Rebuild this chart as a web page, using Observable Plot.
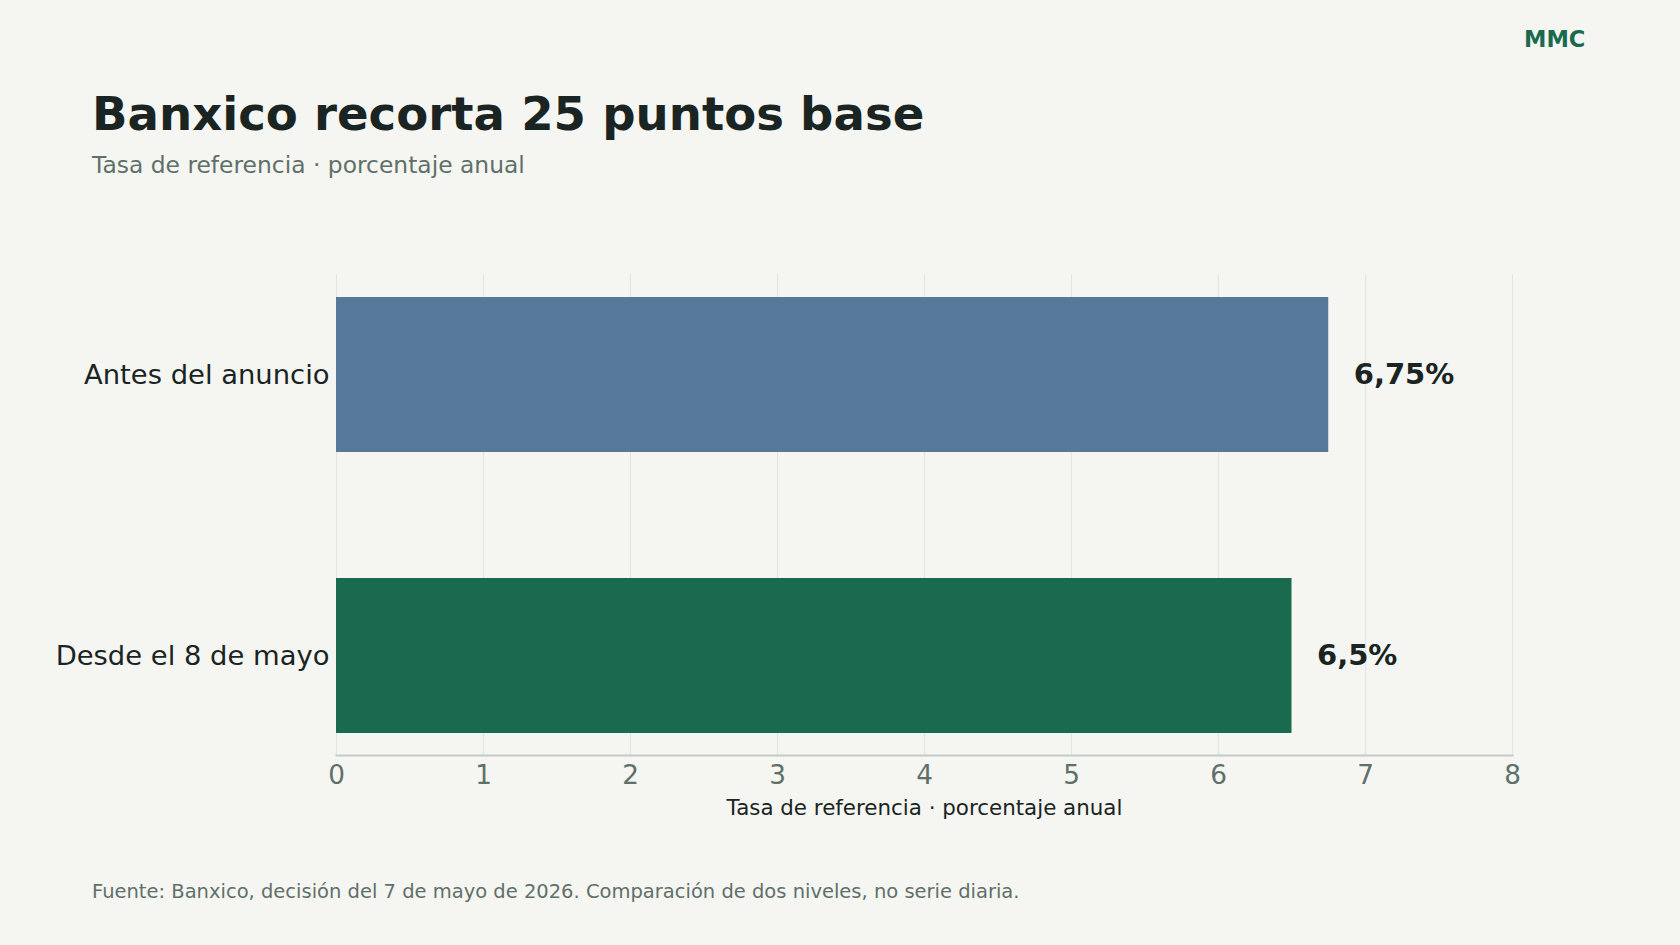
<!DOCTYPE html>
<html>
<head>
<meta charset="utf-8">
<script src="https://cdn.jsdelivr.net/npm/d3@7"></script>
<script src="https://cdn.jsdelivr.net/npm/@observablehq/plot@0.6"></script>
<style>
  html, body { margin: 0; padding: 0; background: #f5f6f2; }
  body { width: 1680px; height: 945px; position: relative; overflow: hidden; font-family: "DejaVu Sans", sans-serif; }
  .abs { position: absolute; white-space: nowrap; }
  #title { left: 92px; top: 91px; font-size: 46.6px; font-weight: bold; color: #1a2422; line-height: 1; }
  #subtitle { left: 92px; top: 154px; font-size: 23.4px; color: #5f7069; line-height: 1; }
  #brand { left: 1524px; top: 28px; font-size: 22.5px; font-weight: bold; color: #1a6a50; line-height: 1; }
  #footer { left: 92px; top: 882px; font-size: 19.5px; color: #5f7069; line-height: 1; }
  #chart { left: 0; top: 249px; }
</style>
</head>
<body>
<div id="title" class="abs"></div>
<div id="subtitle" class="abs"></div>
<div id="brand" class="abs"></div>
<div id="chart" class="abs"></div>
<div id="footer" class="abs"></div>
<script>
const titleText = "Banxico recorta 25 puntos base";
const subtitleText = "Tasa de referencia · porcentaje anual";
const brandText = "MMC";
const footerText = "Fuente: Banxico, decisión del 7 de mayo de 2026. Comparación de dos niveles, no serie diaria.";
const xLabel = "Tasa de referencia · porcentaje anual";

const categories = ["Antes del anuncio", "Desde el 8 de mayo"];
const values = [6.75, 6.5];
const valueLabels = ["6,75%", "6,5%"];
const barColors = ["#56799a", "#1a6a50"];
const xTicks = [0, 1, 2, 3, 4, 5, 6, 7, 8];

document.getElementById("title").textContent = titleText;
document.getElementById("subtitle").textContent = subtitleText;
document.getElementById("brand").textContent = brandText;
document.getElementById("footer").textContent = footerText;

const data = categories.map((c, i) => ({cat: c, value: values[i], label: valueLabels[i], color: barColors[i]}));

const chart = Plot.plot({
  width: 1680,
  height: 582,
  marginTop: 25,
  marginBottom: 76,
  marginLeft: 336,
  marginRight: 168,
  style: {background: "transparent", fontFamily: "DejaVu Sans, sans-serif"},
  x: {domain: [0, 8], ticks: xTicks},
  y: {domain: categories, paddingInner: 0.45, paddingOuter: 0.08},
  marks: [
    Plot.gridX(xTicks, {stroke: "#e5e7e2", strokeOpacity: 1, strokeWidth: 1.3}),
    Plot.barX(data, {x: "value", y: "cat", fill: "color"}),
    Plot.text(data, {x: "value", y: "cat", text: "label", textAnchor: "start", dx: 25, fontSize: 29, fontWeight: "bold", fill: "#1a2422"}),
    Plot.frame({anchor: "bottom", stroke: "#c5ccc7", strokeWidth: 2}),
    Plot.axisX({ticks: xTicks, tickSize: 0, tickPadding: 10, fontSize: 26.3, color: "#5f7069", label: null}),
    Plot.axisY({tickSize: 0, tickPadding: 7, fontSize: 27.4, color: "#1a2422", label: null}),
    Plot.text([xLabel], {frameAnchor: "bottom", lineAnchor: "bottom", dy: 59, fontSize: 21.4, fill: "#1a2422"})
  ]
});
document.getElementById("chart").appendChild(chart);
</script>
</body>
</html>
